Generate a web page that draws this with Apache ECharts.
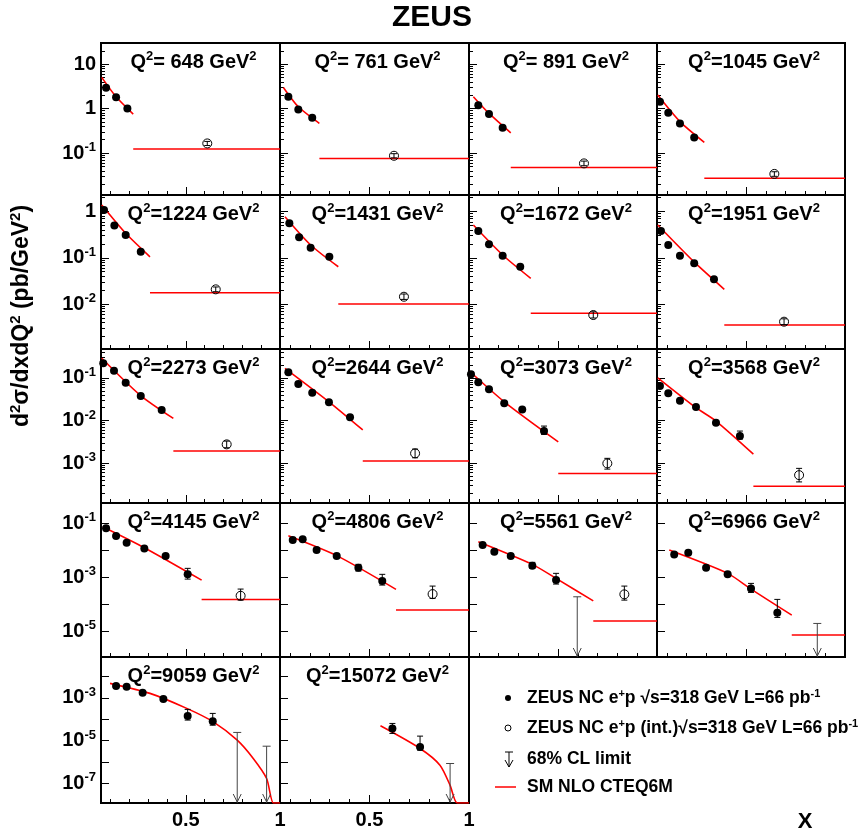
<!DOCTYPE html>
<html><head><meta charset="utf-8">
<script src="https://cdn.jsdelivr.net/npm/echarts@6/dist/echarts.min.js"></script>
<style>html,body{margin:0;padding:0;background:#fff}#c{width:864px;height:837px}</style>
</head><body><div id="c"></div>
<script>
// ---------------- data ----------------
const q2Values = [648, 761, 891, 1045, 1224, 1431, 1672, 1951, 2273, 2644, 3073, 3568, 4145, 4806, 5561, 6966, 9059, 15072];

// measured points (filled circles)
const pointX = [
  [0.077, 0.130, 0.190],
  [0.092, 0.142, 0.212],
  [0.097, 0.151, 0.220],
  [0.065, 0.107, 0.166, 0.238],
  [0.066, 0.121, 0.181, 0.261],
  [0.097, 0.146, 0.204, 0.298],
  [0.097, 0.151, 0.220, 0.309],
  [0.070, 0.107, 0.166, 0.238, 0.338],
  [0.062, 0.119, 0.181, 0.261, 0.372],
  [0.092, 0.142, 0.212, 0.296, 0.402],
  [0.060, 0.097, 0.151, 0.228, 0.319, 0.429],
  [0.065, 0.107, 0.166, 0.247, 0.348, 0.469],
  [0.077, 0.130, 0.186, 0.280, 0.393, 0.510],
  [0.114, 0.164, 0.234, 0.335, 0.444, 0.564],
  [0.119, 0.178, 0.261, 0.370, 0.490],
  [0.137, 0.208, 0.298, 0.407, 0.525, 0.658],
  [0.130, 0.186, 0.271, 0.381, 0.510, 0.643],
  [0.615, 0.754]
];
const pointY = [
  [2.95, 1.80, 1.01],
  [1.85, 0.96, 0.62],
  [1.20, 0.755, 0.37],
  [1.43, 0.81, 0.466, 0.225],
  [1.08, 0.495, 0.31, 0.135],
  [0.556, 0.277, 0.165, 0.105],
  [0.379, 0.195, 0.111, 0.0643],
  [0.379, 0.189, 0.111, 0.076, 0.0343],
  [0.221, 0.148, 0.0773, 0.0376, 0.0176],
  [0.136, 0.072, 0.045, 0.0267, 0.0119],
  [0.122, 0.0789, 0.054, 0.0253, 0.0182, 0.00565],
  [0.0646, 0.0435, 0.0292, 0.0207, 0.00885, 0.0043],
  [0.0635, 0.033, 0.0186, 0.0115, 0.006, 0.00126],
  [0.0234, 0.0249, 0.00998, 0.006, 0.0022, 0.00071],
  [0.0153, 0.00863, 0.006, 0.00262, 0.00077],
  [0.0069, 0.0079, 0.0022, 0.00126, 0.00038, 0.0000475],
  [0.00361, 0.00336, 0.00175, 0.000888, 0.000141, 0.0000822],
  [0.0000374, 0.0000051]
];
// visible error bars (null = hidden under marker)
const pointErrLo = [
  [], [], [], [], [], [], [], [], [], [],
  [null, null, null, null, null, 0.00472],
  [null, null, null, null, null, 0.00366],
  [null, null, null, null, null, 0.00084],
  [null, null, null, null, 0.00167, 0.000505],
  [null, null, null, 0.0021, 0.00055],
  [null, null, null, null, 0.00027, 0.000032],
  [null, null, null, null, 0.000092, 0.000053],
  [0.0000218, 0.0000036]
];
const pointErrHi = [
  [], [], [], [], [], [], [], [], [], [],
  [null, null, null, null, null, 0.0074],
  [null, null, null, null, null, 0.00565],
  [null, null, null, null, null, 0.0021],
  [null, null, null, null, 0.00295, 0.00126],
  [null, null, null, 0.0035, 0.00137],
  [null, null, null, null, 0.000583, 0.000149],
  [null, null, null, null, 0.000292, 0.000189],
  [0.000064, 0.0000163]
];

// integrated high-x bin (open circles)
const intX = [0.614, 0.623, 0.631, 0.643, 0.659, 0.673, 0.678, 0.692, 0.717, 0.729, 0.749, 0.768, 0.791, 0.817, 0.835, null, null, null];
const intY = [0.165, 0.087, 0.0586, 0.034, 0.0208, 0.0144, 0.0058, 0.00416, 0.00275, 0.00169, 0.00098, 0.00052, 0.000203, 0.000234, 0.000229, null, null, null];
const intErrLo = [0.148, 0.078, 0.052, 0.030, 0.0185, 0.0126, 0.0050, 0.0036, 0.00229, 0.00133, 0.00072, 0.00036, 0.00014, 0.000162, 0.00014, null, null, null];
const intErrHi = [0.183, 0.097, 0.066, 0.038, 0.0234, 0.0165, 0.0068, 0.0048, 0.00328, 0.00213, 0.00129, 0.00075, 0.000359, 0.000463, 0.000463, null, null, null];

// SM prediction integrated over the last bin (horizontal red line from bin edge to x = 1)
const smIntX0 = [0.221, 0.248, 0.261, 0.289, 0.31, 0.343, 0.362, 0.39, 0.434, 0.466, 0.501, 0.537, 0.584, 0.633, 0.678, 0.731, null, null];
const smIntX1 = 1.0;
const smIntY = [0.123, 0.076, 0.0476, 0.0273, 0.0176, 0.0100, 0.0063, 0.00353, 0.00191, 0.00111, 0.00057, 0.000286, 0.000149, 0.0000598, 0.0000234, 0.0000071, null, null];

// SM NLO CTEQ6M curve
const curveX = [
  [0.054, 0.13, 0.221],
  [0.067, 0.142, 0.248],
  [0.072, 0.151, 0.261],
  [0.054, 0.166, 0.289],
  [0.054, 0.181, 0.31],
  [0.075, 0.204, 0.343],
  [0.072, 0.22, 0.362],
  [0.054, 0.236, 0.39],
  [0.054, 0.257, 0.434],
  [0.075, 0.296, 0.466],
  [0.052, 0.228, 0.501],
  [0.054, 0.247, 0.348, 0.537],
  [0.059, 0.28, 0.584],
  [0.092, 0.335, 0.633],
  [0.097, 0.37, 0.49, 0.678],
  [0.112, 0.407, 0.525, 0.731],
  [0.098, 0.31, 0.505, 0.646, 0.773, 0.858, 0.929, 0.965, 1.0],
  [0.555, 0.754, 0.854, 0.905, 0.941, 1.0]
];
const curveY = [
  [5.06, 1.85, 0.755],
  [3.0, 1.1, 0.466],
  [1.85, 0.78, 0.286],
  [2.02, 0.51, 0.174],
  [1.38, 0.338, 0.105],
  [0.77, 0.189, 0.064],
  [0.51, 0.115, 0.036],
  [0.51, 0.0824, 0.0208],
  [0.29, 0.0397, 0.0112],
  [0.169, 0.0276, 0.006],
  [0.146, 0.0276, 0.00316],
  [0.101, 0.02, 0.0097, 0.00162],
  [0.0728, 0.0122, 0.00077],
  [0.0338, 0.0062, 0.00035],
  [0.0203, 0.00295, 0.00089, 0.000132],
  [0.00998, 0.00137, 0.000359, 0.0000391],
  [0.00484, 0.00164, 0.000325, 0.000076, 0.0000105, 0.00000146, 0.000000168, 0.000000012, 0.000000012],
  [0.0000495, 0.0000043, 0.00000071, 0.000000081, 0.000000012, 0.000000012]
];

// 68% CL upper limits
const limitX = [[], [], [], [], [], [], [], [], [], [], [], [], [], [], [0.597], [0.86], [0.773, 0.929], [0.905]];
const limitY = [[], [], [], [], [], [], [], [], [], [], [], [], [], [], [0.000186], [0.0000192], [0.0000243, 0.0000055], [0.00000085]];

// axes
const rowYMin = [0.0114, 0.00107, 0.000115, 0.0000011, 0.000000012];
const rowYMax = [30, 2.27, 0.48, 0.55, 0.083];
const xMin = 0.05, xMax = 1.0;
const xMinorTicks = [0.1, 0.2, 0.3, 0.4, 0.6, 0.7, 0.8, 0.9];
const xMajorTicks = [0.5, 1.0];
const xTickLabels = [0.5, 1];

// ---------------- layout ----------------
const colLeft = [101, 280, 469, 657];
const colWidth = [179, 189, 188, 188];
const rowTop = [43, 195, 349, 503, 657];
const rowHeight = [152, 154, 154, 154, 146];

const FONT = '"Liberation Sans", Arial, Helvetica, sans-serif';
const RED = '#ff0000';

function yLabel(v, row) {
  const l = Math.log10(v);
  const e = Math.round(l);
  if (Math.abs(l - e) > 1e-6) return '';
  if (row >= 3 && Math.abs(e) % 2 === 0) return '';
  if (e === 0) return '{b|1}';
  if (e === 1) return '{b|10}';
  return '{b|10}{s|' + e + '}';
}
function minorLogTicks(lo, hi) {
  const out = [];
  for (let e = Math.floor(Math.log10(lo)); e <= Math.ceil(Math.log10(hi)); e++) {
    for (let m = 2; m <= 9; m++) {
      const v = m * Math.pow(10, e);
      if (v > lo && v < hi) out.push(v);
    }
  }
  return out;
}
function renderErr(params, api) {
  const x = api.value(0), lo = api.value(1), hi = api.value(2);
  const a = api.coord([x, hi]), b = api.coord([x, lo]);
  const st = { stroke: '#000', lineWidth: 1 };
  return { type: 'group', children: [
    { type: 'line', shape: { x1: a[0], y1: a[1], x2: b[0], y2: b[1] }, style: st },
    { type: 'line', shape: { x1: a[0] - 3, y1: a[1], x2: a[0] + 3, y2: a[1] }, style: st },
    { type: 'line', shape: { x1: b[0] - 3, y1: b[1], x2: b[0] + 3, y2: b[1] }, style: st }
  ]};
}
function renderLimit(params, api) {
  const x = api.value(0), top = api.value(1);
  const p = api.coord([x, top]);
  const cs = params.coordSys;
  const yb = cs.y + cs.height;
  const st = { stroke: '#444', lineWidth: 1, fill: 'none' };
  return { type: 'group', children: [
    { type: 'line', shape: { x1: p[0], y1: p[1], x2: p[0], y2: yb }, style: st },
    { type: 'line', shape: { x1: p[0] - 4, y1: p[1], x2: p[0] + 4, y2: p[1] }, style: st },
    { type: 'polyline', shape: { points: [[p[0] - 4, yb - 9], [p[0], yb - 1], [p[0] + 4, yb - 9]] }, style: st }
  ]};
}

const grids = [], xAxes = [], yAxes = [], series = [], graphics = [];
const yRich = {
  b: { fontSize: 20, fontWeight: 'bold', fontFamily: FONT, color: '#000', lineHeight: 24 },
  s: { fontSize: 13, fontWeight: 'bold', fontFamily: FONT, color: '#000', verticalAlign: 'top' }
};

q2Values.forEach((q, i) => {
  const row = Math.floor(i / 4), col = i % 4;
  grids.push({ left: colLeft[col], top: rowTop[row], width: colWidth[col], height: rowHeight[row],
    show: true, borderColor: '#000', borderWidth: 2, backgroundColor: 'transparent' });
  const isBottom = row === 4;
  xAxes.push({ gridIndex: i, type: 'value', min: xMin, max: xMax, position: 'bottom',
    axisLine: { show: false }, splitLine: { show: false },
    axisTick: { show: true, inside: true, length: 4, customValues: xMinorTicks, lineStyle: { color: '#000', width: 1 } },
    axisLabel: { show: isBottom, customValues: xTickLabels, margin: 7,
      formatter: v => (Math.abs(v - 1) < 1e-9 ? '1' : String(v)),
      fontSize: 20, fontWeight: 'bold', fontFamily: FONT, color: '#000' } });
  xAxes.push({ gridIndex: i, type: 'value', min: xMin, max: xMax, position: 'bottom',
    axisLine: { show: false }, splitLine: { show: false },
    axisTick: { show: true, inside: true, length: 8, customValues: xMajorTicks, lineStyle: { color: '#000', width: 1 } },
    axisLabel: { show: false } });
  yAxes.push({ gridIndex: i, type: 'log', logBase: 10, min: rowYMin[row], max: rowYMax[row], position: 'left',
    axisLine: { show: false }, splitLine: { show: false },
    axisTick: { show: true, inside: true, length: 8, lineStyle: { color: '#000', width: 1 } },
    axisLabel: { show: col === 0, showMinLabel: false, showMaxLabel: false, margin: 5,
      formatter: v => yLabel(v, row), rich: yRich } });
  yAxes.push({ gridIndex: i, type: 'log', logBase: 10, min: rowYMin[row], max: rowYMax[row], position: 'left',
    axisLine: { show: false }, splitLine: { show: false },
    axisTick: { show: row < 3, inside: true, length: 4,
      customValues: row < 3 ? minorLogTicks(rowYMin[row], rowYMax[row]) : [1e-3], lineStyle: { color: '#000', width: 1 } },
    axisLabel: { show: false } });

  const xi = 2 * i, yi = 2 * i;
  // SM curve
  series.push({ type: 'line', name: 'SM NLO CTEQ6M', xAxisIndex: xi, yAxisIndex: yi,
    data: curveX[i].map((x, k) => [x, curveY[i][k]]), symbol: 'none', smooth: 0.25,
    lineStyle: { color: RED, width: 1.6 }, z: 2, silent: true });
  // SM integrated
  if (smIntX0[i] !== null) {
    series.push({ type: 'line', name: 'SM int', xAxisIndex: xi, yAxisIndex: yi,
      data: [[smIntX0[i], smIntY[i]], [smIntX1, smIntY[i]]], symbol: 'none',
      lineStyle: { color: RED, width: 1.5 }, z: 2, silent: true });
  }
  // error bars of points
  const eb = [];
  pointX[i].forEach((x, k) => {
    const lo = pointErrLo[i][k], hi = pointErrHi[i][k];
    if (lo != null && hi != null) eb.push([x, lo, hi]);
  });
  if (eb.length) series.push({ type: 'custom', xAxisIndex: xi, yAxisIndex: yi, data: eb, renderItem: renderErr, z: 3, silent: true });
  // points
  series.push({ type: 'scatter', name: 'ZEUS NC', xAxisIndex: xi, yAxisIndex: yi,
    data: pointX[i].map((x, k) => [x, pointY[i][k]]), symbol: 'circle', symbolSize: 8,
    itemStyle: { color: '#000', opacity: 1 }, z: 4, silent: true });
  // integrated point
  if (intX[i] !== null) {
    series.push({ type: 'custom', xAxisIndex: xi, yAxisIndex: yi, data: [[intX[i], intErrLo[i], intErrHi[i]]],
      renderItem: renderErr, z: 5, silent: true });
    series.push({ type: 'scatter', name: 'ZEUS NC int', xAxisIndex: xi, yAxisIndex: yi,
      data: [[intX[i], intY[i]]], symbol: 'circle', symbolSize: 9,
      itemStyle: { color: 'rgba(255,255,255,0)', borderColor: '#000', borderWidth: 1, opacity: 1 }, z: 4, silent: true });
  }
  // limits
  if (limitX[i].length) {
    series.push({ type: 'custom', xAxisIndex: xi, yAxisIndex: yi,
      data: limitX[i].map((x, k) => [x, limitY[i][k]]), renderItem: renderLimit, z: 3, silent: true });
  }
  // panel title
  const qs = String(q).length < 4 ? ' ' + q : String(q);
  graphics.push({ type: 'text', x: colLeft[col] + colWidth[col] / 2 + 3, y: rowTop[row] + 19,
    style: { text: '{b|Q}{s|2}{b|=' + qs + ' GeV}{s|2}', align: 'center', verticalAlign: 'middle',
      textAlign: 'center', textVerticalAlign: 'middle',
      rich: {
        b: { fontSize: 20, fontWeight: 'bold', fontFamily: FONT, fill: '#000', color: '#000', lineHeight: 24 },
        s: { fontSize: 13, fontWeight: 'bold', fontFamily: FONT, fill: '#000', color: '#000', verticalAlign: 'top' }
      } } });
});

const lgRich = {
  t: { fontSize: 17.5, fontWeight: 'bold', fontFamily: FONT, fill: '#000', color: '#000', lineHeight: 20 },
  u: { fontSize: 11, fontWeight: 'bold', fontFamily: FONT, fill: '#000', color: '#000', verticalAlign: 'top' }
};
graphics.push(
  { type: 'text', x: 432, y: 18, style: { text: 'ZEUS', font: 'bold 30px ' + FONT, fill: '#000',
      align: 'center', verticalAlign: 'middle', textAlign: 'center', textVerticalAlign: 'middle' } },
  { type: 'text', x: 22, y: 316, rotation: Math.PI / 2,
    style: { text: '{t|d}{u|2}{t|σ/dxdQ}{u|2}{t| (pb/GeV}{u|2}{t|)}', align: 'center', verticalAlign: 'middle',
      textAlign: 'center', textVerticalAlign: 'middle',
      rich: {
        t: { fontSize: 23, fontWeight: 'bold', fontFamily: FONT, fill: '#000', color: '#000', lineHeight: 27 },
        u: { fontSize: 15, fontWeight: 'bold', fontFamily: FONT, fill: '#000', color: '#000', verticalAlign: 'top' }
      } } },
  { type: 'text', x: 805, y: 822, style: { text: 'X', font: 'bold 22px ' + FONT, fill: '#000',
      align: 'center', verticalAlign: 'middle', textAlign: 'center', textVerticalAlign: 'middle' } },
  // legend
  { type: 'circle', shape: { cx: 508, cy: 698, r: 3 }, style: { fill: '#000' } },
  { type: 'text', x: 527, y: 698, style: { text: '{t|ZEUS NC e}{u|+}{t|p √s=318 GeV L=66 pb}{u|-1}', rich: lgRich,
      align: 'left', verticalAlign: 'middle', textAlign: 'left', textVerticalAlign: 'middle' } },
  { type: 'circle', shape: { cx: 508, cy: 728, r: 3 }, style: { fill: '#fff', stroke: '#000', lineWidth: 1 } },
  { type: 'text', x: 527, y: 728, style: { text: '{t|ZEUS NC e}{u|+}{t|p (int.)√s=318 GeV L=66 pb}{u|-1}', rich: lgRich,
      align: 'left', verticalAlign: 'middle', textAlign: 'left', textVerticalAlign: 'middle' } },
  { type: 'line', shape: { x1: 505, y1: 752, x2: 513, y2: 752 }, style: { stroke: '#000', lineWidth: 1 } },
  { type: 'line', shape: { x1: 509, y1: 752, x2: 509, y2: 767 }, style: { stroke: '#000', lineWidth: 1 } },
  { type: 'polyline', shape: { points: [[505, 760], [509, 767], [513, 760]] }, style: { stroke: '#000', lineWidth: 1, fill: 'none' } },
  { type: 'text', x: 527, y: 759, style: { text: '{t|68% CL limit}', rich: lgRich,
      align: 'left', verticalAlign: 'middle', textAlign: 'left', textVerticalAlign: 'middle' } },
  { type: 'line', shape: { x1: 495, y1: 787, x2: 516, y2: 787 }, style: { stroke: RED, lineWidth: 1.5 } },
  { type: 'text', x: 527, y: 787, style: { text: '{t|SM NLO CTEQ6M}', rich: lgRich,
      align: 'left', verticalAlign: 'middle', textAlign: 'left', textVerticalAlign: 'middle' } }
);

const chart = echarts.init(document.getElementById('c'), null, { renderer: 'canvas' });
chart.setOption({
  animation: false,
  backgroundColor: '#fff',
  textStyle: { fontFamily: FONT },
  grid: grids,
  xAxis: xAxes,
  yAxis: yAxes,
  series: series,
  graphic: graphics
});
</script>
</body></html>
